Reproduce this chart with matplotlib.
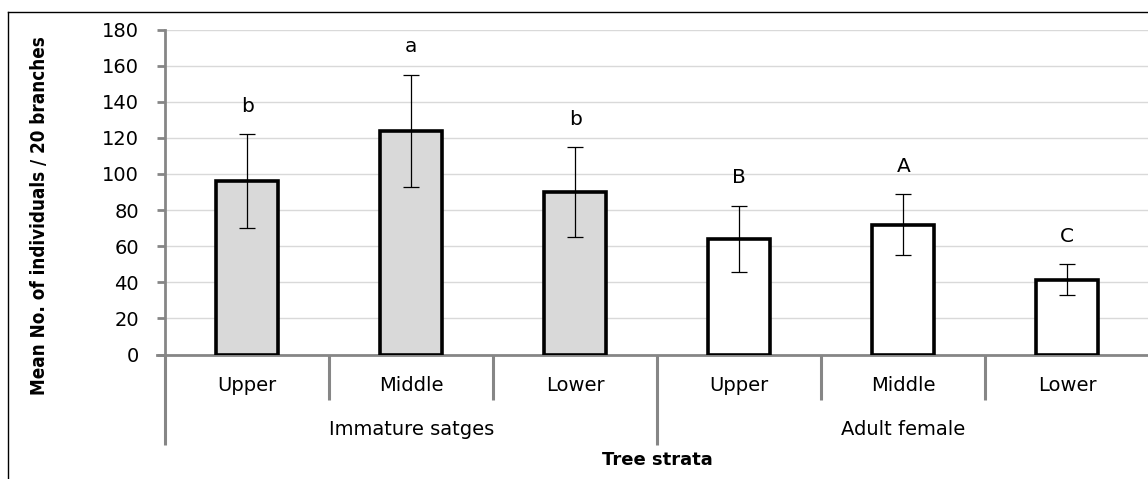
import numpy as np
from matplotlib import pyplot as plt
from matplotlib.lines import Line2D

# data
strata = ['Upper', 'Middle', 'Lower', 'Upper', 'Middle', 'Lower']
groups = ['Immature satges', 'Adult female']
means = [96, 124, 90, 64, 72, 41.5]
errors = [26, 31, 25, 18.5, 17, 8.5]
letters = ['b', 'a', 'b', 'B', 'A', 'C']
fills = ['#d9d9d9', '#d9d9d9', '#d9d9d9', 'white', 'white', 'white']

W, H = 1148, 479
fig = plt.figure(figsize=(W / 100, H / 100), dpi=100)
ax = fig.add_axes([165.3 / W, (H - 354.5) / H, 984 / W, 325 / H])

x = np.arange(len(means))
ax.bar(x, means, width=0.38, color=fills, edgecolor='black', linewidth=2.6, zorder=3)
ax.errorbar(x, means, yerr=errors, fmt='none', ecolor='black', elinewidth=0.9,
            capsize=6, capthick=0.9, zorder=4)

for xi, m, e, lab in zip(x, means, errors, letters):
    ax.annotate(lab, (xi, m + e), xytext=(0, 16), textcoords='offset points',
                ha='center', va='baseline', fontsize=14.5)

ax.set_xlim(-0.5, len(means) - 0.5)
ax.set_ylim(0, 180)
ax.set_yticks(np.arange(0, 181, 20))
ax.tick_params(axis='y', labelsize=14, length=6, width=2, color='#868686', pad=13)
ax.tick_params(axis='x', length=0, labelbottom=False)
ax.yaxis.grid(True, color='#d9d9d9', linewidth=1)
ax.set_axisbelow(True)
for s in ['top', 'right']:
    ax.spines[s].set_visible(False)
for s in ['left', 'bottom']:
    ax.spines[s].set_color('#868686')
    ax.spines[s].set_linewidth(2)

# extend the baseline slightly past the y axis like the reference
trans = ax.get_xaxis_transform()
ax.plot([-0.55, -0.5], [0, 0], transform=trans, color='#868686', lw=2, clip_on=False)

# two-level category axis
for i in range(len(means) + 1):
    xi = i - 0.5
    bottom = -0.279 if i % 3 == 0 else -0.14
    ax.plot([xi, xi], [0, bottom], transform=trans, color='#868686', lw=2.2,
            clip_on=False, solid_capstyle='butt')
for xi, lab in zip(x, strata):
    ax.text(xi, -0.095, lab, transform=trans, ha='center', va='center', fontsize=14)
for gi, g in enumerate(groups):
    ax.text(gi * 3 + 1, -0.23, g, transform=trans, ha='center', va='center', fontsize=14)

ax.text(2.5, -0.325, 'Tree strata', transform=trans, ha='center', va='center',
        fontsize=13, fontweight='bold')
fig.text(40 / W, (H - 216) / H, 'Mean No. of individuals / 20 branches', rotation=90,
         ha='center', va='center', fontsize=13.5, fontweight='bold',
         family='DejaVu Sans', fontstretch='condensed')

# chart border (only left and top visible in the crop)
fig.add_artist(Line2D([8 / W, 8 / W], [0, (H - 12) / H], color='black', lw=1))
fig.add_artist(Line2D([8 / W, 1], [(H - 12) / H, (H - 12) / H], color='black', lw=1))

fig.savefig('out.png', dpi=100)
